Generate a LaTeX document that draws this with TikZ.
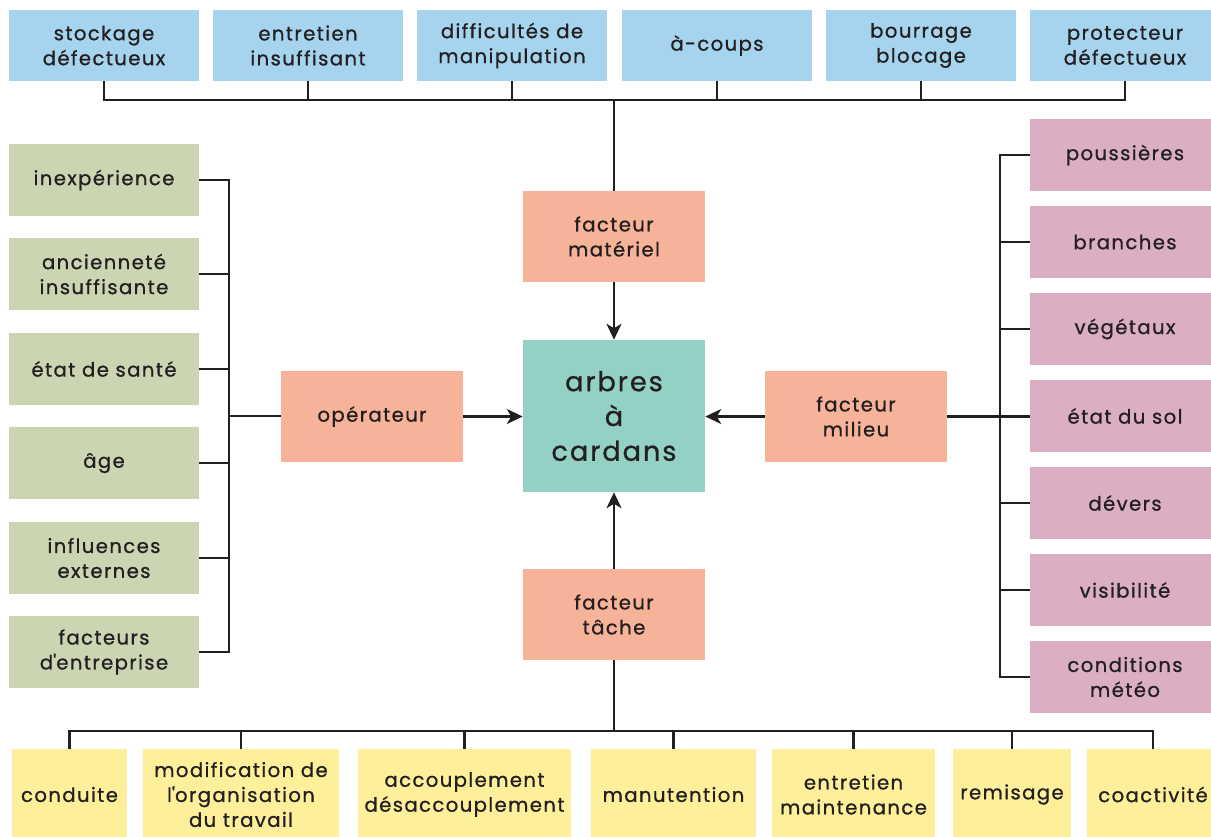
\documentclass[tikz,border=0pt]{standalone}
\usepackage{fontspec}
\setmainfont{Poppins}[LetterSpace=7,FakeBold=0.8]
\usetikzlibrary{arrows.meta}
\definecolor{cblue}{HTML}{A6D4EE}
\definecolor{cgreen}{HTML}{CBD5B1}
\definecolor{csalmon}{HTML}{F7B29A}
\definecolor{cteal}{HTML}{93D1C5}
\definecolor{cpink}{HTML}{DBAEC3}
\definecolor{cyellow}{HTML}{FEF09A}
\definecolor{cink}{HTML}{231F20}
\newcommand\mybox[7]{%
\node[#2, minimum width={(#5-#3)*0.02cm}, minimum height={(#6-#4)*0.02cm}] (#1) at ({(#3+#5)/2},{(#4+#6)/2}) {#7};}
\begin{document}
\begin{tikzpicture}[x=0.02cm,y=-0.02cm,
  base/.style={inner sep=0pt, align=center, text=cink, font=\fontsize{11.2}{14.2}\selectfont},
  bl/.style={base, fill=cblue},
  gr/.style={base, fill=cgreen},
  sa/.style={base, fill=csalmon},
  te/.style={base, fill=cteal, font=\fontsize{15.5}{19.8}\selectfont},
  pk/.style={base, fill=cpink},
  ye/.style={base, fill=cyellow},
  ln/.style={draw=cink, line width=1.4pt},
  arr/.style={ln, -{Stealth[length=9pt,width=8.5pt,inset=2.5pt]}}]
\useasboundingbox (0,0) rectangle (1211,836);
% top row
\mybox{t1}{bl}{9}{10}{199}{81}{stockage\\défectueux}
\mybox{t2}{bl}{213}{10}{403}{81}{entretien\\insuffisant}
\mybox{t3}{bl}{417}{10}{607}{81}{difficultés de\\manipulation}
\mybox{t4}{bl}{622}{10}{812}{81}{à-coups}
\mybox{t5}{bl}{826}{10}{1016}{81}{bourrage\\blocage}
\mybox{t6}{bl}{1030}{10}{1220}{81}{protecteur\\défectueux}
% factors
\mybox{fm}{sa}{523}{191}{705}{282}{facteur\\matériel}
\mybox{c}{te}{523}{340}{705}{492}{arbres\\à\\cardans}
\mybox{op}{sa}{281}{371}{463}{462}{opérateur}
\mybox{fmil}{sa}{765}{371}{947}{462}{facteur\\milieu}
\mybox{ft}{sa}{523}{569}{705}{660}{facteur\\tâche}
% left
\mybox{l1}{gr}{9}{144}{199}{216}{inexpérience}
\mybox{l2}{gr}{9}{238}{199}{310}{ancienneté\\insuffisante}
\mybox{l3}{gr}{9}{333}{199}{405}{état de santé}
\mybox{l4}{gr}{9}{427}{199}{499}{âge}
\mybox{l5}{gr}{9}{522}{199}{594}{influences\\externes}
\mybox{l6}{gr}{9}{616}{199}{688}{facteurs\\d\textquotesingle entreprise}
% right
\mybox{r1}{pk}{1030}{119}{1220}{191}{poussières}
\mybox{r2}{pk}{1030}{206}{1220}{278}{branches}
\mybox{r3}{pk}{1030}{293}{1220}{365}{végétaux}
\mybox{r4}{pk}{1030}{380}{1220}{452}{état du sol}
\mybox{r5}{pk}{1030}{467}{1220}{539}{dévers}
\mybox{r6}{pk}{1030}{554}{1220}{626}{visibilité}
\mybox{r7}{pk}{1030}{641}{1220}{713}{conditions\\météo}
% bottom
\mybox{b1}{ye}{12}{749}{127}{840}{conduite}
\mybox{b2}{ye}{143}{749}{339}{840}{modification de\\l\textquotesingle organisation\\du travail}
\mybox{b3}{ye}{358}{749}{571}{840}{accouplement\\désaccouplement}
\mybox{b4}{ye}{591}{749}{756}{840}{manutention}
\mybox{b5}{ye}{772}{749}{935}{840}{entretien\\maintenance}
\mybox{b6}{ye}{953}{749}{1071}{840}{remisage}
\mybox{b7}{ye}{1087}{749}{1219}{840}{coactivité}
% coordinates
\coordinate (tbus) at (614,100);
\coordinate (lbus) at (229,416);
\coordinate (rbus) at (1000,416);
\coordinate (bbus) at (614,731);
% top connectors
\draw[ln] (t1.south) |- (tbus) -| (t6.south);
\foreach \n in {t2,t3,t4,t5} \draw[ln] (\n.south) -- (\n.south |- tbus);
\draw[ln] (tbus) -- (fm.north);
\draw[arr] (fm.south) -- (c.north);
% left connectors
\draw[ln] (l1.east) -| (lbus) |- (l6.east);
\foreach \n in {l2,l3,l4,l5} \draw[ln] (\n.east) -- (\n.east -| lbus);
\draw[ln] (lbus) -- (lbus -| op.west);
\draw[arr] (op.east) -- (op.east -| c.west);
% right connectors
\draw[ln] (r1.west) -| (rbus) |- (r7.west);
\foreach \n in {r2,r3,r5,r6} \draw[ln] (\n.west) -- (\n.west -| rbus);
\draw[ln] (fmil.east) -- (fmil.east -| r4.west);
\draw[arr] (fmil.west) -- (fmil.west -| c.east);
% bottom connectors
\draw[ln] (ft.south) -- (bbus);
\draw[arr] (ft.north) -- (c.south);
\draw[ln] (b1.north) |- (bbus) -| (b7.north);
\foreach \n in {b2,b3,b4,b5,b6} \draw[ln] (\n.north) -- (\n.north |- bbus);
\end{tikzpicture}
\end{document}
